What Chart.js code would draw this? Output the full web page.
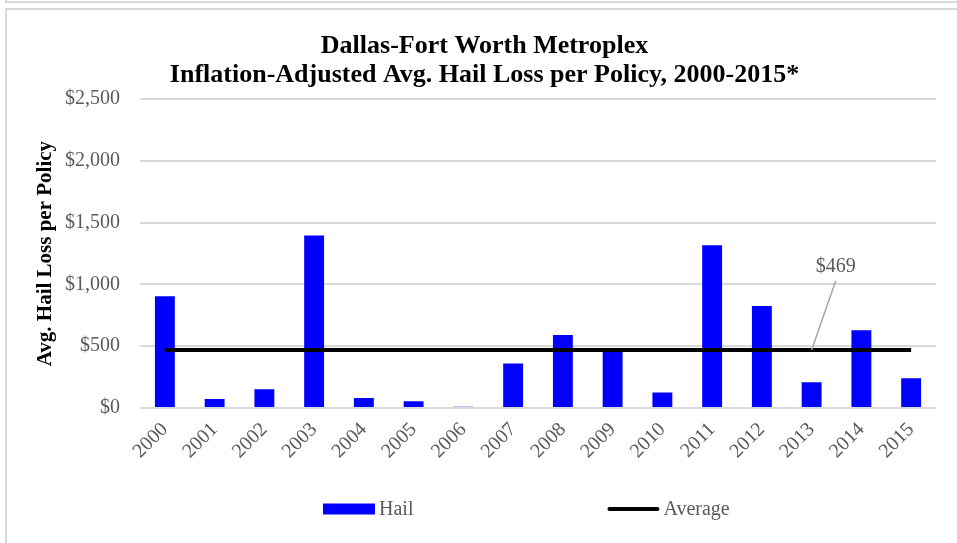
<!DOCTYPE html>
<html>
<head>
<meta charset="utf-8">
<title>DFW Hail Loss per Policy</title>
<script src="https://cdn.jsdelivr.net/npm/chart.js@4"></script>
<style>
  html, body { margin: 0; padding: 0; background: #fff; }
  #wrap { position: relative; width: 957px; height: 543px; overflow: hidden; }
  .frame-prev { position: absolute; left: 5px; top: -19px; width: 980px; height: 20px;
                border-left: 2px solid #d9d9d9; border-bottom: 2px solid #d9d9d9; }
  .frame { position: absolute; left: 5px; top: 8px; width: 980px; height: 600px;
           border-left: 2px solid #d9d9d9; border-top: 2px solid #d9d9d9; }
  #hail-chart { position: absolute; left: 0; top: 0; }
</style>
</head>
<body>
<div id="wrap">
  <div class="frame-prev"></div>
  <div class="frame"></div>
  <canvas id="hail-chart" width="957" height="543"></canvas>
</div>
<script>
const years = ['2000', '2001', '2002', '2003', '2004', '2005', '2006', '2007',
               '2008', '2009', '2010', '2011', '2012', '2013', '2014', '2015'];
const hailLoss = [905, 73, 151, 1396, 81, 54, 11, 360, 591, 465, 125, 1318, 826, 208, 629, 240];
const averageLoss = [469, 469, 469, 469, 469, 469, 469, 469, 469, 469, 469, 469, 469, 469, 469, 469];
const yTicks = [0, 500, 1000, 1500, 2000, 2500];

const serif = '"Liberation Serif", "Times New Roman", serif';
const grey = '#595959';

const money = v => '$' + Number(v).toLocaleString('en-US');

// legend with a wide gap between the two entries
const spacedLegend = {
    id: 'spacedLegend',
    afterDraw(chart, args, opts) {
        const ctx = chart.ctx;
        ctx.save();
        ctx.font = '20px ' + serif;
        ctx.textBaseline = 'middle';
        let x = opts.x;
        chart.data.datasets.forEach(ds => {
            if (ds.type === 'line') {
                ctx.strokeStyle = ds.borderColor;
                ctx.lineWidth = ds.borderWidth;
                ctx.lineCap = 'round';
                ctx.beginPath();
                ctx.moveTo(x + 2, opts.y);
                ctx.lineTo(x + opts.boxWidth - 2, opts.y);
                ctx.stroke();
            } else {
                ctx.fillStyle = ds.backgroundColor;
                ctx.fillRect(x, opts.y - opts.boxHeight / 2, opts.boxWidth, opts.boxHeight);
            }
            ctx.fillStyle = grey;
            ctx.textAlign = 'left';
            ctx.fillText(ds.label, x + opts.boxWidth + 4, opts.y + 1);
            x += opts.boxWidth + 4 + ctx.measureText(ds.label).width + opts.gap;
        });
        ctx.restore();
    }
};

// callout with the average value, tied to one point of the average line
const averageCallout = {
    id: 'averageCallout',
    afterDatasetsDraw(chart, args, opts) {
        const pt = chart.getDatasetMeta(1).data[opts.index];
        if (!pt) return;
        const ctx = chart.ctx;
        ctx.save();
        ctx.strokeStyle = '#a6a6a6';
        ctx.lineWidth = 1.5;
        ctx.beginPath();
        ctx.moveTo(pt.x, pt.y);
        ctx.lineTo(pt.x + 24, pt.y - 69);
        ctx.stroke();
        ctx.fillStyle = grey;
        ctx.font = '20px ' + serif;
        ctx.textAlign = 'center';
        ctx.textBaseline = 'alphabetic';
        ctx.fillText(money(averageLoss[opts.index]), pt.x + 24, pt.y - 78);
        ctx.restore();
    }
};

new Chart(document.getElementById('hail-chart'), {
    data: {
        labels: years,
        datasets: [{
            type: 'bar',
            label: 'Hail',
            data: hailLoss,
            backgroundColor: '#0000FF',
            borderWidth: 0,
            categoryPercentage: 1,
            barPercentage: 0.4,
            order: 1
        },
        {
            type: 'line',
            label: 'Average',
            data: averageLoss,
            borderColor: '#000000',
            borderWidth: 4,
            pointRadius: 0,
            fill: false,
            order: 0
        }]
    },
    options: {
        responsive: false,
        animation: false,
        layout: {
            padding: { top: 0, left: 33, right: 21, bottom: 80 }
        },
        plugins: {
            legend: { display: false },
            tooltip: { enabled: false },
            title: {
                display: true,
                text: ['Dallas-Fort Worth Metroplex',
                       'Inflation-Adjusted Avg. Hail Loss per Policy, 2000-2015*'],
                color: '#000',
                font: { family: serif, size: 26, weight: 'bold', lineHeight: 1.12 },
                padding: { top: 32, bottom: 9 }
            },
            spacedLegend: { x: 323, y: 509, boxWidth: 52, boxHeight: 11, gap: 194 },
            averageCallout: { index: 13 }
        },
        scales: {
            x: {
                offset: true,
                grid: { display: false },
                border: { display: false },
                ticks: {
                    color: grey,
                    font: { family: serif, size: 20 },
                    minRotation: 45,
                    maxRotation: 45,
                    padding: 2
                },
                afterFit(scale) { scale.height = 55; }
            },
            y: {
                min: 0,
                max: 2500,
                afterBuildTicks(scale) { scale.ticks = yTicks.map(v => ({ value: v })); },
                afterFit(scale) { scale.width = 107; },
                grid: { color: '#d9d9d9', lineWidth: 2, drawTicks: false },
                border: { display: false },
                ticks: {
                    color: grey,
                    font: { family: serif, size: 20 },
                    padding: 20,
                    callback: v => money(v)
                },
                title: {
                    display: true,
                    text: 'Avg. Hail Loss per Policy',
                    color: '#000',
                    font: { family: serif, size: 21, weight: 'bold' },
                    padding: { top: 0, bottom: 0 }
                }
            }
        }
    },
    plugins: [spacedLegend, averageCallout]
});
</script>
</body>
</html>
